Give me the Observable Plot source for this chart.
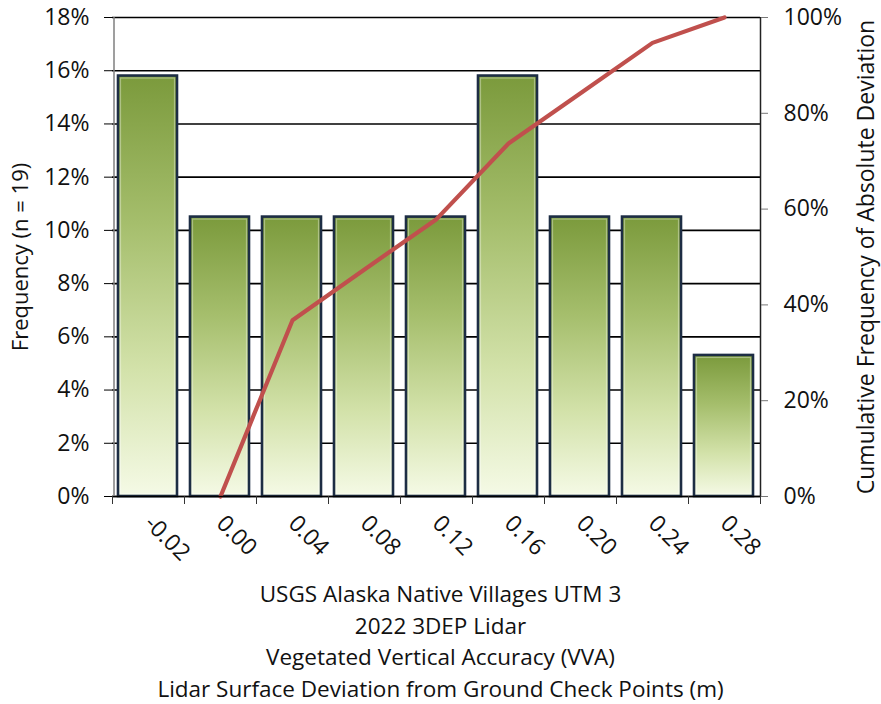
<!DOCTYPE html>
<html>
<head>
<meta charset="utf-8">
<script src="https://cdn.jsdelivr.net/npm/d3@7"></script>
<script src="https://cdn.jsdelivr.net/npm/@observablehq/plot@0.6"></script>
<style>
  html, body { margin: 0; padding: 0; background: #fff; }
  #wrap { width: 881px; }
  #caption { width: 881px; text-align: center; font-family: "Open Sans", sans-serif; font-size: 22.5px; line-height: 31.5px; color: #111; margin-top: 0; }
</style>
</head>
<body>
<div id="wrap"></div>
<div id="caption">
  <div>USGS Alaska Native Villages UTM 3</div>
  <div>2022 3DEP Lidar</div>
  <div>Vegetated Vertical Accuracy (VVA)</div>
  <div>Lidar Surface Deviation from Ground Check Points (m)</div>
</div>
<script>
// ---- data ----
const categories = ["-0.02", "0.00", "0.04", "0.08", "0.12", "0.16", "0.20", "0.24", "0.28"];
const frequency  = [0.158, 0.105, 0.105, 0.105, 0.105, 0.158, 0.105, 0.105, 0.053];
const cumulative = [null, 0.0, 0.368, 0.474, 0.579, 0.737, 0.842, 0.947, 1.0];
const leftTicks  = [0, 0.02, 0.04, 0.06, 0.08, 0.10, 0.12, 0.14, 0.16, 0.18];
const rightTicks = [0, 0.2, 0.4, 0.6, 0.8, 1.0];
const leftTitle  = "Frequency (n = 19)";
const rightTitle = "Cumulative Frequency of Absolute Deviation";

// ---- build ----
const yMax = 0.18; // left axis max; right axis 100% maps to it
const rows = categories.map((c, i) => ({cat: c, i, freq: frequency[i], cum: cumulative[i]}));
const lineRows = rows.filter(d => d.cum != null);
const bounds = d3.range(categories.length + 1);
const centers = categories.map((c, i) => i + 0.5);
const font = "'Open Sans', sans-serif";

const chart = Plot.plot({
  width: 881,
  height: 578,
  marginLeft: 112,
  marginRight: 121,
  marginTop: 17,
  marginBottom: 82,
  x: {domain: [0, categories.length]},
  y: {domain: [0, yMax]},
  style: {fontFamily: font, fontSize: "23px", color: "#111", background: "#fff", overflow: "visible"},
  marks: [
    Plot.gridY(leftTicks, {stroke: "#000", strokeOpacity: 1, strokeWidth: 1.6}),
    Plot.rectY(rows, {x1: d => d.i, x2: d => d.i + 1, y: "freq", insetLeft: 6, insetRight: 7,
      fill: "url(#barGrad)", stroke: "#1d2d44", strokeWidth: 2.6}),
    Plot.rectY(rows, {x1: d => d.i, x2: d => d.i + 1, y: "freq", insetLeft: 8.5, insetRight: 9.5, insetTop: 2.5, insetBottom: 2.5,
      fill: "none", stroke: "#ffffff", strokeOpacity: 0.35, strokeWidth: 1.2}),
    Plot.line(lineRows, {x: d => d.i + 0.5, y: d => d.cum * yMax, stroke: "#c0504d", strokeWidth: 4.2, curve: "linear"}),
    Plot.ruleY([0], {stroke: "#000", strokeWidth: 1.6}),
    Plot.ruleX([0], {stroke: "#7f7f7f", strokeWidth: 1.5, dx: 1.5}),
    Plot.ruleX([categories.length], {stroke: "#222", strokeWidth: 1.5}),
    Plot.axisY({ticks: leftTicks, tickFormat: d => Math.round(d * 100) + "%", tickSize: 8, tickPadding: 15, label: null, stroke: "#000"}),
    Plot.axisY({anchor: "right", ticks: rightTicks.map(v => v * yMax), tickFormat: d => Math.round(d / yMax * 100) + "%",
      tickSize: 7, tickPadding: 16, label: null, stroke: "#777"}),
    Plot.axisX({ticks: bounds, tickFormat: () => "", tickSize: 8, label: null, stroke: "#333"}),
    Plot.axisX({ticks: centers, tickFormat: v => categories[Math.round(v - 0.5)], tickSize: 0, tickPadding: 23, tickRotate: 45, label: null}),
    Plot.text([leftTitle], {frameAnchor: "left", text: d => d, rotate: -90, dx: -92, textAnchor: "middle", fontSize: 22, fill: "#111"}),
    Plot.text([rightTitle], {frameAnchor: "right", text: d => d, rotate: -90, dx: 106, textAnchor: "middle", fontSize: 23, fill: "#111"})
  ]
});

const svg = d3.select(chart);
svg.insert("defs", ":first-child").html(`
  <linearGradient id="barGrad" x1="0" y1="0" x2="0" y2="1">
    <stop offset="0" stop-color="#7b9a3c"/>
    <stop offset="0.35" stop-color="#a5be6c"/>
    <stop offset="0.7" stop-color="#d3e2aa"/>
    <stop offset="1" stop-color="#f5fae6"/>
  </linearGradient>`);
document.getElementById("wrap").appendChild(chart);
</script>
</body>
</html>
